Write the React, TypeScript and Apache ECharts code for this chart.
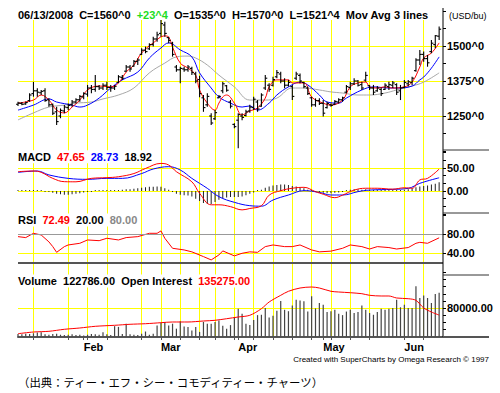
import React, { useEffect, useRef } from 'react';
import * as echarts from 'echarts';

// ---- calendar (trading days shown on the chart) ----
const HOLIDAYS = ['2008-01-21', '2008-02-18', '2008-03-21', '2008-05-26'];
const FIRST_DAY = [2008, 0, 8];
const LAST_DAY = [2008, 5, 13];
const MONTH_NAMES: Record<string, string> = { '01': 'Jan', '02': 'Feb', '03': 'Mar', '04': 'Apr', '05': 'May', '06': 'Jun' };

const dates: string[] = [];
for (let t = Date.UTC(FIRST_DAY[0], FIRST_DAY[1], FIRST_DAY[2]); t <= Date.UTC(LAST_DAY[0], LAST_DAY[1], LAST_DAY[2]); t += 86400000) {
  const d = new Date(t);
  const wd = d.getUTCDay();
  const s = d.toISOString().slice(0, 10);
  if (wd === 0 || wd === 6 || HOLIDAYS.includes(s)) continue;
  dates.push(s);
}
const categories = [...dates, ''];
const weekStart = categories.map((s) => s !== '' && new Date(s + 'T00:00:00Z').getUTCDay() === 1);
const monthStart = categories.map((s, i) => i > 0 && s !== '' && s.slice(5, 7) !== categories[i - 1].slice(5, 7));

// ---- price bars (USD/bu, cents) ----
const opens = [
  1292, 1295, 1293, 1305, 1330, 1340, 1333, 1340, 1308, 1290,
  1265, 1250, 1268, 1280, 1290, 1300, 1308, 1318, 1328, 1350,
  1345, 1355, 1350, 1360, 1352, 1350, 1370, 1388, 1410, 1425,
  1428, 1445, 1470, 1485, 1490, 1505, 1525, 1545, 1575, 1530,
  1510, 1425, 1415, 1418, 1415, 1420, 1400, 1380, 1315, 1290,
  1250, 1240, 1315, 1340, 1358, 1300, 1220, 1235, 1250, 1252,
  1268, 1280, 1300, 1285, 1350, 1360, 1360, 1390, 1400, 1375,
  1360, 1355, 1385, 1395, 1370, 1350, 1315, 1290, 1305, 1295,
  1280, 1290, 1292, 1300, 1308, 1335, 1352, 1365, 1375, 1362,
  1378, 1358, 1350, 1340, 1345, 1345, 1355, 1360, 1362, 1340,
  1352, 1365, 1370, 1412, 1450, 1470, 1455, 1480, 1505, 1535,
];
const highs = [
  1301, 1300, 1302, 1331, 1372, 1349, 1343, 1349, 1313, 1295,
  1283, 1277, 1289, 1295, 1307, 1313, 1325, 1335, 1361, 1361,
  1396, 1361, 1367, 1372, 1361, 1361, 1396, 1396, 1432, 1432,
  1450, 1456, 1492, 1498, 1510, 1533, 1551, 1593, 1587, 1533,
  1515, 1432, 1426, 1426, 1432, 1426, 1408, 1394, 1325, 1331,
  1260, 1271, 1325, 1372, 1361, 1307, 1224, 1260, 1260, 1272,
  1290, 1319, 1307, 1331, 1396, 1367, 1390, 1414, 1408, 1385,
  1379, 1361, 1408, 1402, 1372, 1355, 1319, 1313, 1313, 1307,
  1301, 1295, 1307, 1313, 1319, 1361, 1372, 1385, 1379, 1372,
  1408, 1361, 1361, 1357, 1352, 1367, 1372, 1375, 1367, 1361,
  1379, 1379, 1390, 1456, 1486, 1480, 1468, 1521, 1539, 1570,
];
const lows = [
  1286, 1288, 1290, 1301, 1319, 1319, 1325, 1301, 1283, 1254,
  1218, 1242, 1260, 1271, 1283, 1295, 1301, 1310, 1319, 1331,
  1337, 1343, 1343, 1343, 1337, 1343, 1367, 1379, 1408, 1408,
  1426, 1432, 1468, 1474, 1486, 1498, 1515, 1533, 1533, 1510,
  1462, 1408, 1367, 1408, 1408, 1396, 1367, 1317, 1265, 1283,
  1218, 1236, 1313, 1331, 1337, 1277, 1206, 1135, 1235, 1248,
  1262, 1271, 1265, 1283, 1343, 1337, 1355, 1385, 1367, 1349,
  1355, 1307, 1379, 1367, 1349, 1325, 1283, 1283, 1289, 1248,
  1277, 1283, 1289, 1295, 1301, 1331, 1343, 1361, 1355, 1343,
  1372, 1343, 1325, 1337, 1321, 1343, 1343, 1350, 1325, 1307,
  1349, 1355, 1361, 1408, 1432, 1444, 1426, 1474, 1492, 1521.5,
];
const closes = [
  1296, 1292, 1298, 1325, 1340, 1335, 1338, 1305, 1290, 1260,
  1230, 1270, 1282, 1288, 1300, 1308, 1320, 1330, 1350, 1345,
  1355, 1350, 1360, 1352, 1350, 1356, 1390, 1385, 1425, 1418,
  1445, 1450, 1485, 1480, 1505, 1525, 1540, 1580, 1545, 1520,
  1470, 1415, 1420, 1415, 1425, 1405, 1375, 1330, 1280, 1320,
  1225, 1262, 1320, 1365, 1342, 1285, 1212, 1255, 1245, 1265,
  1282, 1310, 1275, 1325, 1385, 1345, 1380, 1405, 1375, 1360,
  1370, 1320, 1400, 1375, 1355, 1330, 1290, 1305, 1295, 1260,
  1295, 1288, 1302, 1308, 1315, 1355, 1365, 1375, 1360, 1350,
  1395, 1350, 1335, 1350, 1330, 1360, 1362, 1368, 1335, 1350,
  1370, 1372, 1385, 1450, 1470, 1455, 1440, 1510, 1536.5, 1560,
];

// ---- moving averages, read as [day index, value] ----
const maFast = [[0,1296],[4,1307],[6,1325],[8,1307],[10,1271],[12,1261],[14,1282],[16,1307],[18,1343],[21,1357],[24,1354],[26,1368],[28,1407],[30,1432],[32,1475],[35,1511],[38,1536],[39,1532],[40,1496],[42,1439],[44,1421],[46,1396],[47,1343],[49,1296],[51,1271],[52,1296],[53,1318],[54,1325],[56,1296],[58,1254],[60,1268],[62,1279],[64,1314],[65,1354],[67,1379],[70,1379],[71,1368],[74,1368],[76,1318],[79,1296],[81,1289],[84,1307],[86,1354],[88,1368],[90,1371],[91,1354],[93,1350],[95,1354],[97,1350],[100,1354],[102,1371],[104,1425],[105,1457],[107,1475],[109,1511]];
const maMid = [[0,1271],[4,1289],[8,1311],[10,1300],[14,1289],[16,1282],[18,1289],[21,1314],[24,1350],[27,1379],[31,1407],[34,1457],[37,1493],[39,1511],[42,1486],[45,1461],[47,1404],[50,1350],[52,1318],[55,1296],[58,1282],[60,1286],[62,1271],[65,1296],[67,1325],[70,1354],[73,1371],[75,1361],[78,1325],[80,1300],[83,1296],[85,1314],[89,1343],[92,1354],[96,1350],[98,1350],[102,1357],[104,1379],[105,1389],[107,1421],[109,1461]];
const maSlow = [[0,1236],[4,1261],[8,1282],[12,1289],[15,1296],[19,1300],[22,1311],[26,1325],[30,1350],[34,1404],[38,1439],[41,1461],[44,1464],[46,1457],[49,1432],[52,1396],[56,1354],[60,1307],[64,1307],[67,1314],[71,1350],[74,1350],[78,1343],[81,1336],[84,1332],[88,1325],[91,1325],[95,1332],[98,1343],[102,1357],[105,1371],[109,1404]];

// ---- MACD ----
const macdLine = [[0,42],[4,43.5],[6,40.6],[9,27.5],[12,20.3],[15,20],[19,27.5],[23,29],[26,31],[30,38],[33,49],[37,60],[39,56.5],[41,42],[45,20],[47,-5],[50,-30],[52,-30],[55,-34],[58,-41],[60,-38],[63,-32],[65,-9],[68,0.7],[71,6],[74,8],[77,-1.5],[79,-7],[82,-14.5],[84,-9],[87,2],[90,6],[93,6],[97,4],[100,7],[102,6],[104,24],[106,27.5],[109,47.65]];
const signalLine = [[0,40.6],[5,43.5],[8,35],[13,27.5],[18,25.4],[23,27.5],[27,27.5],[32,38],[35,47.8],[39,52.9],[42,45.6],[45,27.5],[49,5.8],[52,-12.3],[56,-24.6],[60,-31.9],[63,-33],[66,-19.6],[70,-8.7],[74,0.7],[78,-3],[81,-8.7],[84,-8.7],[88,-1.4],[91,2],[97,3.6],[101,5.8],[104,16.7],[109,28.73]];
const macdHist = [
  1, 1, 1, 0.5, 0.5, 0, 0, -1, -2,
  -4, -6, -7, -8, -8, -7, -6, -5, -3,
  -2, -1, 0, 0.5, 1, 1, 1, 1.5, 2,
  3, 4, 4, 5, 6, 7, 8, 9, 9, 10, 9, 6, 3,
  -2, -6, -8, -9, -10, -12, -17, -22, -26, -28, -28, -24,
  -19, -16, -14, -13, -13, -13, -12, -9, -6,
  -3, 0, 3, 7, 10, 12, 13, 14, 14, 13, 11, 10, 8, 6,
  3, 0, -2, -3, -4, -5, -5, -4, -3, -1, 1, 3, 4,
  4, 3, 4, 3, 2, 2, 1, 2, 3, 3, 2, 1, 2,
  4, 6, 8, 10, 11, 12, 14, 16, 18.92,
];

// ---- RSI ----
const rsiLine = [[0,75],[2,73],[4,82],[6,78.5],[8,64],[9,54],[10,42],[12,54],[13,57.5],[16,61],[18,68],[21,66.5],[23,71.6],[26,68],[28,73],[31,75],[34,82],[36,82],[37,87],[38,71.6],[40,50.5],[43,47],[45,43],[48,33],[50,26],[52,36.5],[53,45],[56,34.5],[58,40],[60,43],[62,42],[64,54],[66,57.5],[69,54],[71,54],[73,57.5],[76,47],[78,43],[81,44.5],[84,50.5],[86,57.5],[89,54],[91,49],[93,54],[96,52],[98,49],[101,52],[103,61],[104,63],[106,61],[109,72.49]];
const rsiLevels = [80, 20];

// ---- Volume / Open interest ----
const volumes = [
  7000, 6000, 8000, 7000, 9000, 11000, 12000, 6000, 5000, 7000,
  8000, 5000, 4000, 5000, 6000, 4000, 5000, 3000, 5000, 7000,
  6000, 5000, 12000, 6000, 4000, 29000, 27000, 7000, 36000, 6000,
  5000, 4000, 8000, 14000, 5000, 8000, 31000, 38000, 40000, 31000,
  36000, 22000, 43000, 28000, 27000, 17000, 27000, 13000, 41000, 36000,
  36000, 41000, 45000, 30000, 22000, 32000, 55000, 78000, 64000, 36000,
  32000, 46000, 60000, 61000, 80000, 53000, 58000, 72000, 100000, 75000,
  71000, 87000, 103000, 101000, 99000, 70000, 113000, 79000, 94000, 89000,
  69000, 71000, 75000, 64000, 60000, 70000, 75000, 66000, 69000, 87000,
  75000, 66000, 61000, 69000, 78000, 75000, 78000, 80000, 103000, 82000,
  89000, 80000, 80000, 141000, 108000, 115000, 108000, 94000, 119000, 122786,
];
const openInterest = [[0,17700],[4,28400],[8,32800],[12,45500],[16,53700],[20,64400],[25,70700],[29,77100],[33,80800],[37,87200],[40,91600],[44,91600],[48,97900],[51,102300],[54,112400],[57,123200],[60,133900],[63,175600],[65,217900],[68,260200],[70,285500],[73,306300],[76,312600],[78,306300],[81,285500],[83,281100],[86,276600],[89,270300],[91,260200],[94,255800],[96,255800],[98,243200],[101,238700],[103,228600],[105,180000],[107,154700],[109,135275]];

// ---- tick labels ----
const priceLabels = [1250, 1375, 1500];
const macdLabels = [0, 50];
const rsiLabels = [40, 80];
const volumeLabels = [80000];

const FONT = '"Liberation Sans", Arial, Helvetica, sans-serif';
const YELLOW = '#ffff00';
const L = 18;
const W = 425;

function axisRight(gridIndex: number, min: number, max: number, interval: number, minorSplit: number, labels: number[], fmt: (v: number) => string) {
  return {
    type: 'value', gridIndex, position: 'right', min, max, interval,
    axisLine: { show: false },
    axisTick: { show: true, length: 3, lineStyle: { color: '#000' } },
    minorTick: { show: minorSplit > 1, splitNumber: minorSplit, length: 3, lineStyle: { color: '#000' } },
    splitLine: { show: true, showMinLine: false, showMaxLine: false, lineStyle: { color: YELLOW, width: 1 } },
    axisLabel: {
      margin: 4, color: '#000', fontFamily: FONT, fontWeight: 'bold', fontSize: 11,
      formatter: (v: number) => (labels.includes(v) ? fmt(v) : ''),
    },
  };
}

function hiddenX(gridIndex: number) {
  return { type: 'category', gridIndex, data: categories, boundaryGap: false, show: false };
}

export default function App() {
  const ref = useRef<HTMLDivElement>(null);
  useEffect(() => {
    const chart = echarts.init(ref.current!, null, { renderer: 'svg' });
    const ohlc = dates.map((_, i) => [i, opens[i], highs[i], lows[i], closes[i]]);
    const txt = (x: number, y: number, text: string, rich: any, extra: any = {}) => ({
      type: 'text', z: 100, x, y,
      style: { text, rich, verticalAlign: 'middle', align: 'left', backgroundColor: '#fff', padding: [1, 1], ...extra },
    });
    const bold = (fill: string) => ({ fill, fontFamily: FONT, fontWeight: 'bold', fontSize: 11 });
    const line = (x1: number, y1: number, x2: number, y2: number, stroke: string, lineWidth = 1) => ({
      type: 'line', z: 100, shape: { x1, y1, x2, y2 }, style: { stroke, lineWidth },
    });

    const option: any = {
      animation: false,
      backgroundColor: '#fff',
      grid: [
        { left: L, width: W, top: 20, height: 317 },
        { left: L, width: W, top: 11, height: 140 },
        { left: L, width: W, top: 151, height: 63 },
        { left: L, width: W, top: 215.24, height: 57.06 },
        { left: L, width: W, top: 279.5, height: 57 },
      ],
      xAxis: [
        {
          type: 'category', gridIndex: 0, data: categories, boundaryGap: false, position: 'bottom',
          axisLine: { show: true, lineStyle: { color: '#555', width: 2 } },
          axisTick: { show: true, length: 3, interval: (i: number) => weekStart[i] || monthStart[i], lineStyle: { color: '#555' } },
          axisLabel: {
            interval: (i: number) => monthStart[i], align: 'left', margin: 4,
            color: '#000', fontFamily: FONT, fontWeight: 'bold', fontSize: 11,
            formatter: (v: string) => MONTH_NAMES[v.slice(5, 7)] || '',
          },
          splitLine: { show: true, interval: (i: number) => weekStart[i], lineStyle: { color: YELLOW, width: 1 } },
        },
        hiddenX(1), hiddenX(2), hiddenX(3), hiddenX(4),
      ],
      yAxis: [
        { type: 'value', gridIndex: 0, min: 0, max: 1, show: false },
        axisRight(1, 1125, 1625, 125, 2, priceLabels, (v) => v + '^0'),
        axisRight(2, -50, 87, 50, 3, macdLabels, (v) => v.toFixed(2)),
        axisRight(3, 0, 120, 40, 1, rsiLabels, (v) => v.toFixed(2)),
        axisRight(4, 0, 160000, 80000, 4, volumeLabels, (v) => v.toFixed(2)),
        { type: 'value', gridIndex: 4, min: 0, max: 360000, show: false },
      ],
      series: [
        {
          type: 'custom', name: 'Price', xAxisIndex: 1, yAxisIndex: 1, data: ohlc,
          encode: { x: 0, y: [1, 2, 3, 4] }, z: 3,
          renderItem: (params: any, api: any) => {
            const i = api.value(0);
            const p0 = api.coord([i, api.value(1)]);
            const x = p0[0];
            const yo = p0[1];
            const yh = api.coord([i, api.value(2)])[1];
            const yl = api.coord([i, api.value(3)])[1];
            const yc = api.coord([i, api.value(4)])[1];
            const s = { stroke: '#000', lineWidth: 1.1 };
            return {
              type: 'group',
              children: [
                { type: 'line', shape: { x1: x, y1: yh, x2: x, y2: yl }, style: s },
                { type: 'line', shape: { x1: x - 2, y1: yo, x2: x, y2: yo }, style: s },
                { type: 'line', shape: { x1: x, y1: yc, x2: x + 2, y2: yc }, style: s },
              ],
            };
          },
        },
        { type: 'line', name: 'MA slow', xAxisIndex: 1, yAxisIndex: 1, data: maSlow, showSymbol: false, smooth: 0.4, lineStyle: { color: '#a8a8a8', width: 1 }, z: 2 },
        { type: 'line', name: 'MA mid', xAxisIndex: 1, yAxisIndex: 1, data: maMid, showSymbol: false, smooth: 0.4, lineStyle: { color: '#0000ff', width: 1 }, z: 2 },
        { type: 'line', name: 'MA fast', xAxisIndex: 1, yAxisIndex: 1, data: maFast, showSymbol: false, smooth: 0.4, lineStyle: { color: '#ff0000', width: 1 }, z: 2 },
        { type: 'bar', name: 'MACD hist', xAxisIndex: 2, yAxisIndex: 2, data: macdHist, barWidth: 1, barMinHeight: 1, itemStyle: { color: '#222' }, z: 2 },
        { type: 'line', name: 'Signal', xAxisIndex: 2, yAxisIndex: 2, data: signalLine, showSymbol: false, smooth: 0.4, lineStyle: { color: '#0000ff', width: 1 }, z: 3 },
        { type: 'line', name: 'MACD', xAxisIndex: 2, yAxisIndex: 2, data: macdLine, showSymbol: false, smooth: 0.4, lineStyle: { color: '#ff0000', width: 1 }, z: 3 },
        {
          type: 'line', name: 'RSI', xAxisIndex: 3, yAxisIndex: 3, data: rsiLine, showSymbol: false, lineStyle: { color: '#ff0000', width: 1 }, z: 3,
          markLine: {
            silent: true, symbol: 'none', label: { show: false },
            data: [
              { yAxis: rsiLevels[0], lineStyle: { color: '#999', width: 1, type: 'solid' } },
              { yAxis: rsiLevels[1], lineStyle: { color: '#555', width: 2, type: 'solid' } },
            ],
          },
        },
        { type: 'bar', name: 'Volume', xAxisIndex: 4, yAxisIndex: 4, data: volumes, barWidth: 1.2, itemStyle: { color: '#444' }, z: 2 },
        { type: 'line', name: 'Open Interest', xAxisIndex: 4, yAxisIndex: 5, data: openInterest, showSymbol: false, smooth: 0.3, lineStyle: { color: '#ff0000', width: 1 }, z: 3 },
      ],
      graphic: [
        line(443, 8, 443, 337, '#000', 1),
        line(443, 150, 489, 150, '#333', 1),
        line(443, 213, 489, 213, '#333', 1),
        line(443, 275, 489, 275, '#333', 1),
        line(443, 337, 489, 337, '#555', 2),
        txt(17, 14.7, '{k|06/13/2008  C=1560^0  }{g|+23^4}{k|  O=1535^0  H=1570^0  L=1521^4  Mov Avg 3 lines}', { k: bold('#000'), g: bold('#22dd22') }, { backgroundColor: 'transparent' }),
        txt(448, 15.5, '{s|(USD/bu)}', { s: { fill: '#000', fontFamily: FONT, fontSize: 9 } }, { backgroundColor: 'transparent' }),
        txt(17, 156.7, '{k|MACD  }{r|47.65}{k|  }{b|28.73}{k|  18.92}', { k: bold('#000'), r: bold('#ff0000'), b: bold('#0000ff') }),
        txt(17, 220, '{k|RSI  }{r|72.49}{k|  20.00  }{g|80.00}', { k: bold('#000'), r: bold('#ff0000'), g: bold('#888888') }),
        txt(17, 281, '{k|Volume  122786.00  Open Interest  }{r|135275.00}', { k: bold('#000'), r: bold('#ff0000') }),
        {
          type: 'text', z: 100, x: 489, y: 359,
          style: { text: 'Created with SuperCharts by Omega Research \u00a9 1997', align: 'right', verticalAlign: 'middle', fill: '#000', fontFamily: FONT, fontSize: 8 },
        },
        {
          type: 'text', z: 100, x: 18, y: 382,
          style: { text: '（出典：ティー・エフ・シー・コモディティー・チャーツ）', align: 'left', verticalAlign: 'middle', fill: '#000', fontFamily: '"Noto Sans CJK JP", sans-serif', fontSize: 11.4 },
        },
      ],
    };
    chart.setOption(option);
    return () => chart.dispose();
  }, []);
  return <div ref={ref} style={{ position: 'absolute', left: 0, top: 0, width: 500, height: 393, background: '#fff' }} />;
}
